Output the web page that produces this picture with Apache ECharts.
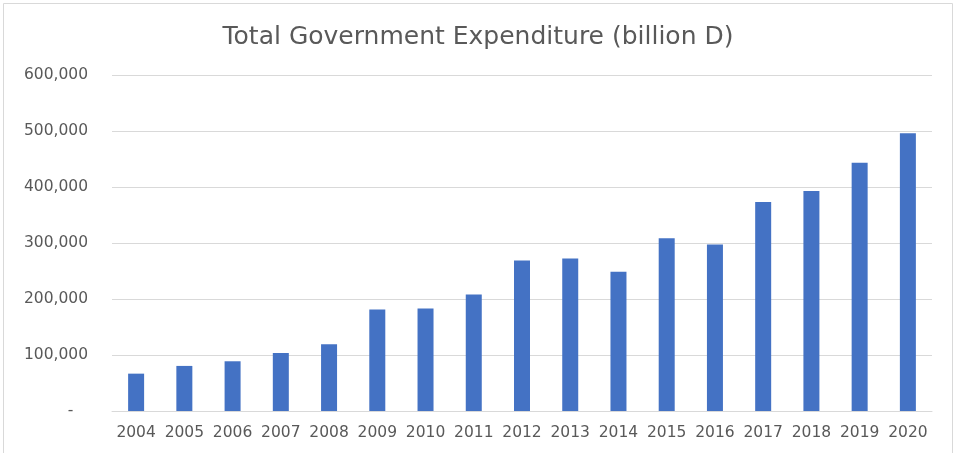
<!DOCTYPE html>
<html><head><meta charset="utf-8">
<script src="https://cdn.jsdelivr.net/npm/echarts@6/dist/echarts.min.js"></script>
<style>html,body{margin:0;padding:0;background:#fff}#c{width:956px;height:453px}</style>
</head><body><div id="c"></div>
<script>
const categories = ['2004','2005','2006','2007','2008','2009','2010','2011','2012','2013','2014','2015','2016','2017','2018','2019','2020'];
const expenditure = [66700,80500,88800,103700,119200,181200,183000,208000,268800,272300,248500,308700,297400,373100,392700,443400,495800];
const yTicks = [0,100000,200000,300000,400000,500000,600000];
const titleText = 'Total Government Expenditure (billion D)';

const chart = echarts.init(document.getElementById('c'));
const fnt = '"DejaVu Sans", "Open Sans", sans-serif';
chart.setOption({
  animation: false,
  title: { text: titleText, left: 'center', top: 20,
    textStyle: { fontFamily: fnt, fontSize: 25, fontWeight: 'normal', color: '#595959' } },
  graphic: [{ type: 'rect', shape: { x: 3.5, y: 3.5, width: 949, height: 460 },
    style: { fill: 'none', stroke: '#d9d9d9', lineWidth: 1 }, silent: true }],
  grid: { left: 112, right: 24, top: 75, bottom: 42, containLabel: false },
  xAxis: { type: 'category', data: categories,
    axisLine: { lineStyle: { color: '#d9d9d9', width: 1 } },
    axisTick: { show: false },
    axisLabel: { fontFamily: fnt, fontSize: 15.5, color: '#595959', margin: 14, interval: 0 } },
  yAxis: { type: 'value', min: yTicks[0], max: yTicks[yTicks.length-1], interval: 100000,
    axisLine: { show: false }, axisTick: { show: false },
    splitLine: { lineStyle: { color: '#d9d9d9', width: 1 } },
    axisLabel: { fontFamily: fnt, fontSize: 15.5, color: '#595959', margin: 24,
      formatter: v => v === 0 ? '-   ' : v.toLocaleString('en-US') } },
  series: [{ type: 'bar', data: expenditure, barWidth: 16,
    itemStyle: { color: '#4472c4' } }]
});
</script></body></html>
